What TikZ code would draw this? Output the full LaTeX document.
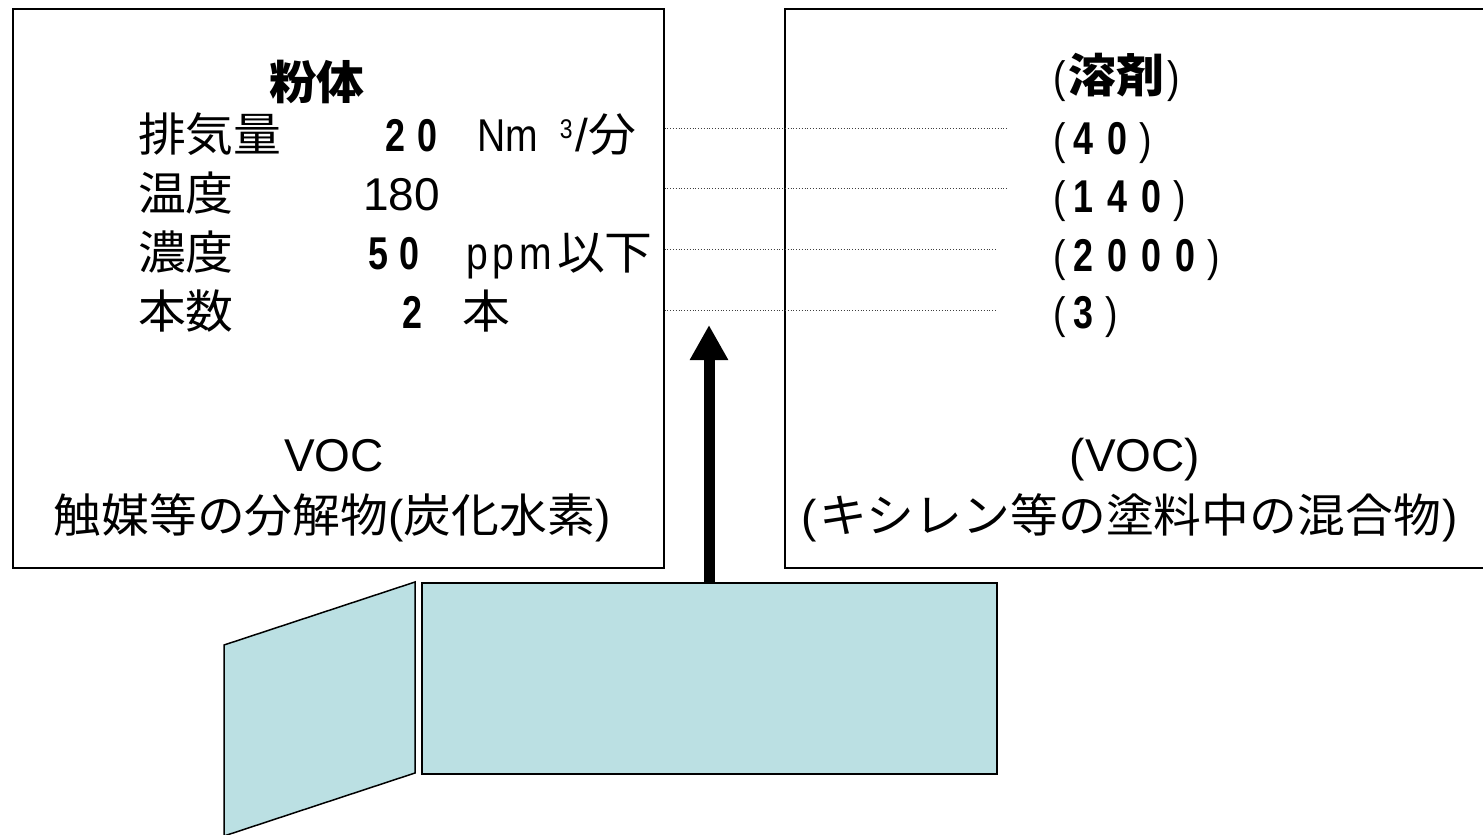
\documentclass[tikz,border=0pt]{standalone}
\usepackage{fontspec}
\setmainfont{Liberation Sans}
\newfontfamily\jp[FakeStretch=1.04]{Noto Sans CJK JP}
\newfontfamily\cnd[FakeStretch=0.85]{Liberation Sans}
\newfontfamily\cndb[FakeStretch=0.78]{Liberation Sans}
\usetikzlibrary{arrows.meta}
\definecolor{panelfill}{RGB}{187,224,227}
\newcommand{\bdg}{\cndb\bfseries\fontsize{46}{50}\selectfont}
\newcommand{\rpf}{\cnd\fontsize{44}{48}\selectfont}
\begin{document}
\begin{tikzpicture}[x=1pt,y=-1pt,
  txt/.style={inner sep=0pt, outer sep=0pt, anchor=base west, font=\fontsize{46}{50}\selectfont},
  ctxt/.style={inner sep=0pt, outer sep=0pt, anchor=base, font=\fontsize{46}{50}\selectfont},
  infobox/.style={draw=black, line width=1.5pt, fill=white, inner sep=0pt, anchor=north west},
  dotline/.style={dotted, line width=0.8pt, draw=black!75},
  panelbox/.style={draw=black, line width=1.5pt, fill=panelfill, inner sep=0pt, anchor=north west},
  flowarrow/.style={line width=11pt, -{Triangle[width=36pt,length=35pt]}}]
\useasboundingbox (0,0) rectangle (1483,835);
\clip (0,0) rectangle (1483,835);

% boxes
\node[infobox, minimum width=651pt, minimum height=559pt] (lbox) at (12,8) {};
\node[infobox, minimum width=702pt, minimum height=559pt] (rbox) at (784,8) {};

% dotted guide lines
\coordinate (e1) at (1007,128);
\coordinate (e2) at (1007,188);
\coordinate (e3) at (996,249);
\coordinate (e4) at (996,310);
\draw[dotline] (lbox.east |- e1) -- (e1);
\draw[dotline] (lbox.east |- e2) -- (e2);
\draw[dotline] (lbox.east |- e3) -- (e3);
\draw[dotline] (lbox.east |- e4) -- (e4);

% left box text
\node[txt] (ltitle) at (269,99) {\jp\bfseries 粉体};
\node[txt] (l1) at (138,151) {\jp 排気量};
\node[txt] (l2) at (138,210) {\jp 温度};
\node[txt] (l3) at (138,269) {\jp 濃度};
\node[txt] (l4) at (138,328) {\jp 本数};
\node[txt] (v1) at (385,151) {\bdg 2\kern13pt 0};
\node[txt] (u1) at (477,151) {\cnd Nm\kern22pt\raisebox{13pt}{\fontsize{27}{30}\selectfont 3}\kern3pt{\rmfamily /}{\jp 分}};
\node[txt] (v2) at (363,210) {180};
\node[txt] (v3) at (368,269) {\bdg 5\kern12pt 0};
\node[txt] (u3) at (466,269) {\cnd p\kern5pt p\kern5pt m\kern5pt{\jp 以下}};
\node[txt] (v4) at (402,328) {\bdg 2};
\node[txt] (u4) at (462,328) {\jp 本};
\node[ctxt] (lvoc) at (334,471) {VOC};
\node[ctxt] (ldesc) at (332,532) {{\jp 触媒等の分解物}({\jp 炭化水素})};

% right box text
\node[txt] (rtitle) at (1053,92) {\rpf(\kern3pt{\jp\bfseries\fontsize{46}{50}\selectfont 溶剤}\kern3pt)};
\node[txt] (r1) at (1053,154) {\rpf(\kern8pt{\bdg 4\kern14pt 0}\kern12pt)};
\node[txt] (r2) at (1053,212) {\rpf(\kern8pt{\bdg 1\kern14pt 4\kern14pt 0}\kern12pt)};
\node[txt] (r3) at (1053,271) {\rpf(\kern8pt{\bdg 2\kern14pt 0\kern14pt 0\kern14pt 0}\kern12pt)};
\node[txt] (r4) at (1053,328) {\rpf(\kern8pt{\bdg 3}\kern12pt)};
\node[ctxt] (rvoc) at (1135,471) {(VOC)};
\node[ctxt] (rdesc) at (1130,532) {(\kern2pt{\jp キシレン等の塗料中の混合物}\kern2pt)};

% equipment
\draw[draw=black, line width=1.5pt, fill=panelfill] (224,645) -- (415,582) -- (415,773) -- (224,836) -- cycle;
\node[panelbox, minimum width=575pt, minimum height=191pt] (panel) at (421,582) {};

% arrow
\coordinate (tip) at (709,325);
\draw[flowarrow] (tip |- panel.north) -- (tip);
\end{tikzpicture}
\end{document}
